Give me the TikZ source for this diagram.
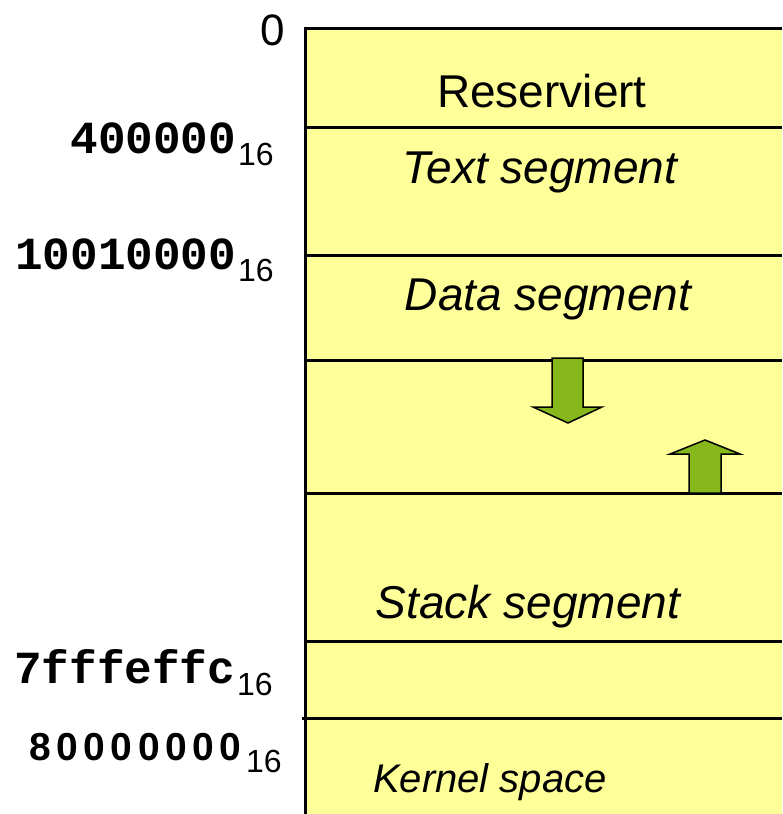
\documentclass[tikz,border=0pt]{standalone}
\usepackage{fontspec}
\setmainfont{Liberation Sans}
\newfontfamily\addrmono{Liberation Mono}
\newfontfamily\addrsans{Liberation Sans}
\definecolor{memyellow}{HTML}{FFFF99}
\definecolor{arrowgreen}{RGB}{134,184,27}
% one digit of a sans address, set on the monospaced pitch
\newcommand{\pitchdigit}[1]{\makebox[27.2pt]{#1}}
\newcommand{\hexsub}{\hspace{2pt}\raisebox{-12pt}{\fontsize{32}{36}\selectfont\addrsans\mdseries 16}}
\begin{document}
\begin{tikzpicture}[x=1pt,y=-1pt,
  segtext/.style={font=\fontsize{46}{50}\selectfont\itshape, anchor=base, inner sep=0pt},
  addr/.style={anchor=base east, inner sep=0pt, font=\fontsize{46}{50}\selectfont\addrmono\bfseries},
  sepline/.style={line width=3pt},
  growarrow/.style={fill=arrowgreen, draw=black, line width=1.5pt, line join=miter}]
\useasboundingbox (0,0) rectangle (782,814);

% memory column
\fill[memyellow] (305,28) rectangle (782,814);
\draw[sepline] (782,28) -- (305,28) -- (305,814);
\foreach \y in {127,255,360,493,641}
  \draw[sepline] (305,\y) -- (782,\y);
\draw[sepline] (302,718) -- (782,718);

% heap grows down, stack grows up
\draw[growarrow] (552,358) -- (552,407) -- (533,407) -- (568,423) -- (602,407)
  -- (583,407) -- (583,358) -- cycle;
\draw[growarrow] (689,493) -- (689,454) -- (670,454) -- (705,440) -- (740,454)
  -- (721,454) -- (721,493) -- cycle;

% segment names
\node[font=\fontsize{46}{50}\selectfont, anchor=base, inner sep=0pt] (res) at (542,107) {Reserviert};
\node[segtext] (text) at (540,183) {Text segment};
\node[segtext] (data) at (548,310) {Data segment};
\node[segtext] (stack) at (528,618) {Stack segment};
\node[segtext, font=\fontsize{40}{44}\selectfont\itshape] (kernel) at (490,792) {Kernel space};

% addresses
\node[font=\fontsize{44}{48}\selectfont, anchor=base, inner sep=0pt] (a0) at (273,45) {0};
\node[addr] (a1) at (274,153) {400000\hexsub};
\node[addr] (a2) at (274,269) {10010000\hexsub};
\node[addr] (a3) at (273,683) {7fffeffc\hexsub};
\node[addr, font=\fontsize{39}{44}\selectfont\addrsans\bfseries] (a4) at (282,760)
  {\pitchdigit{8}\pitchdigit{0}\pitchdigit{0}\pitchdigit{0}\pitchdigit{0}\pitchdigit{0}\pitchdigit{0}\pitchdigit{0}\hexsub};
\end{tikzpicture}
\end{document}
